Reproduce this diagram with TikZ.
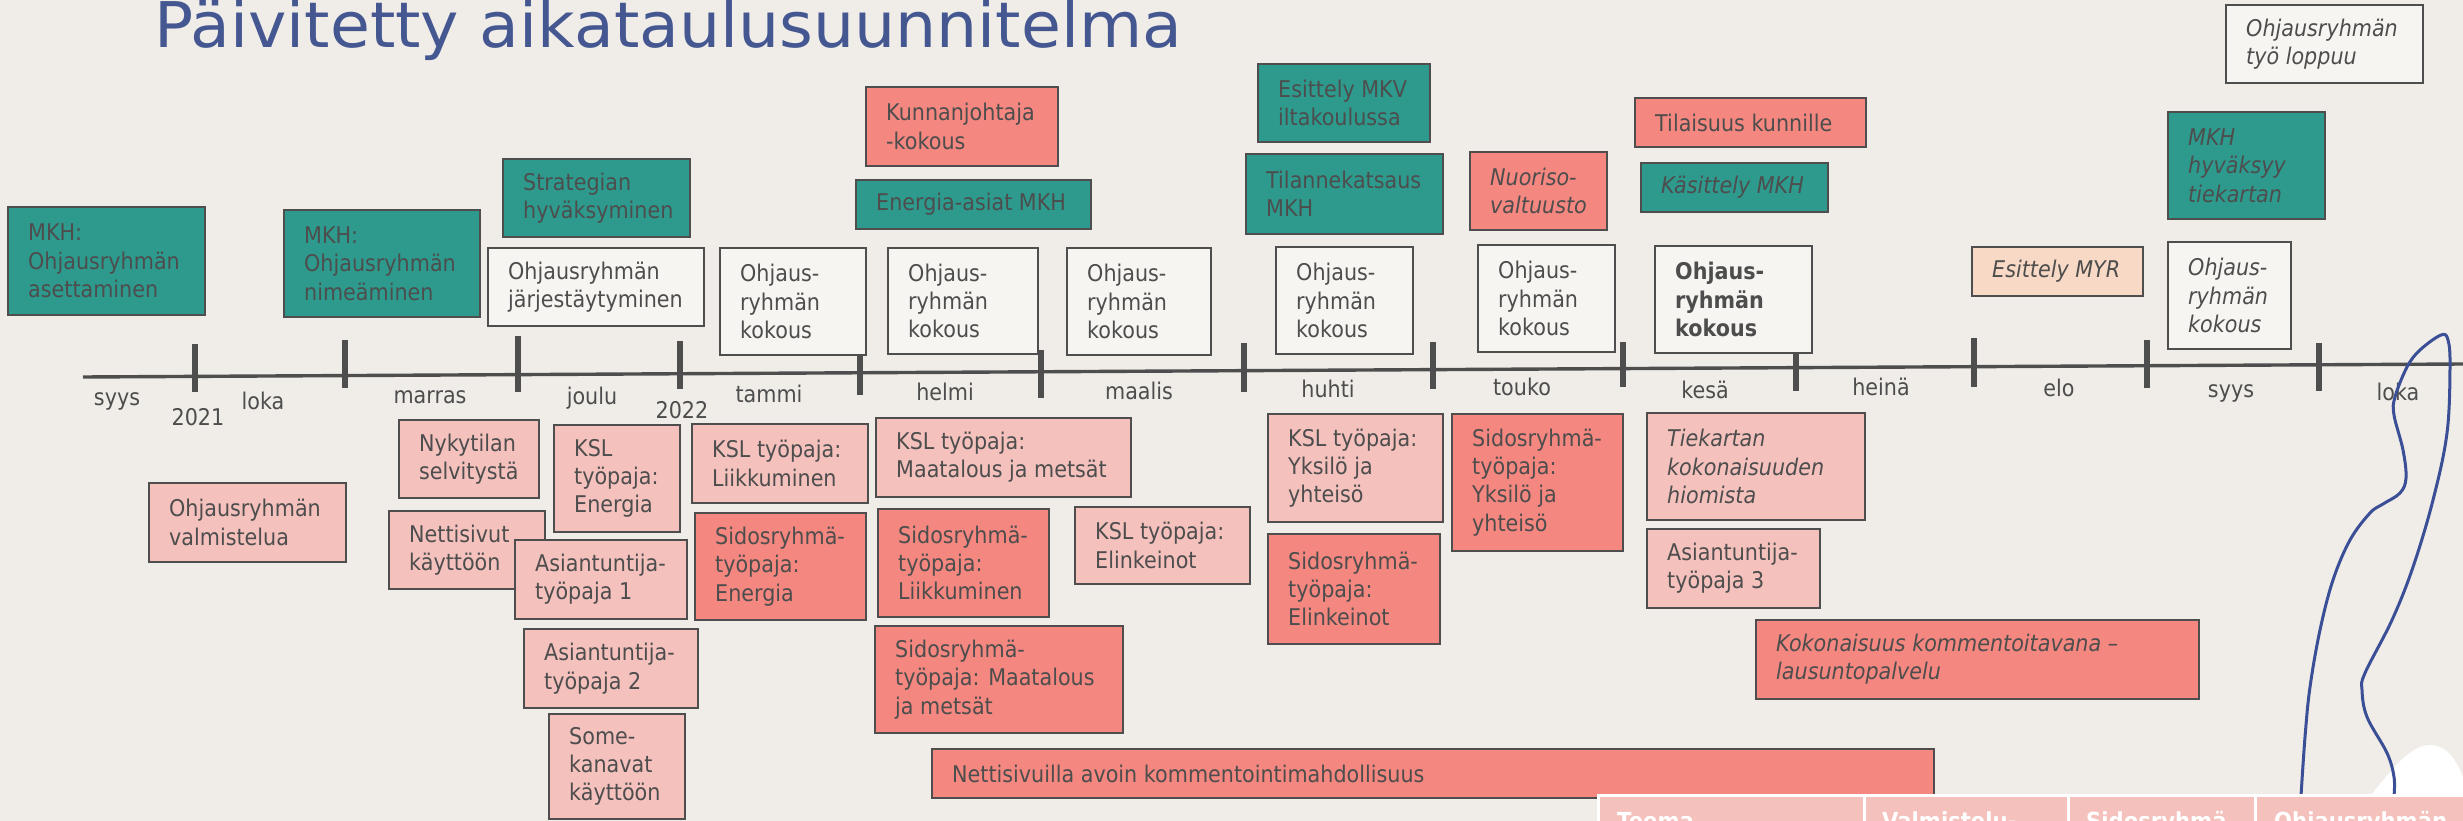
\documentclass[tikz,border=0pt]{standalone}
\usepackage{fontspec}
\setmainfont{DejaVu Sans}[FakeStretch=0.9]
\newfontfamily\titlefont{DejaVu Sans}[FakeStretch=1.03]
\definecolor{bg}{RGB}{240,237,232}
\definecolor{teal1}{RGB}{45,154,141}
\definecolor{salmon}{RGB}{244,135,127}
\definecolor{pink1}{RGB}{244,193,189}
\definecolor{wbox}{RGB}{246,245,241}
\definecolor{peach}{RGB}{248,217,197}
\definecolor{ink}{RGB}{77,77,77}
\definecolor{edge}{RGB}{78,78,78}
\definecolor{titleblue}{RGB}{68,87,145}
\definecolor{curveblue}{RGB}{58,79,150}
\tikzset{
  bx/.style={draw=edge, line width=2.5pt, inner sep=0pt, outer sep=0pt},
  tx/.style={text=ink, align=left, inner sep=0pt, anchor=west, font=\fontsize{23}{28.3}\selectfont},
  itx/.style={font=\fontsize{23}{28.3}\selectfont\itshape},
  bfx/.style={font=\fontsize{23}{28.3}\selectfont\bfseries},
  month/.style={text=ink, font=\fontsize{23}{28}\selectfont, anchor=base, inner sep=0pt},
  tickmark/.style={draw=edge, line width=6.5pt},
  cell/.style={fill=pink1, draw=white, line width=3pt, anchor=north west, inner sep=0pt, minimum height=45pt},
  celltext/.style={text=white, anchor=base west, inner sep=0pt, font=\fontsize{23.5}{28}\selectfont\bfseries},
}
\newcommand\mybox[8]{%
  \pgfmathsetmacro\bxw{#4-#2}\pgfmathsetmacro\bxh{#5-#3}%
  \node[bx, fill=#6, minimum width=\bxw pt, minimum height=\bxh pt] (#1) at ({(#2+#4)/2},{(#3+#5)/2}) {};
  \node[tx, #7] (#1t) at ([xshift=20pt]#1.west) {#8};}
\begin{document}
\begin{tikzpicture}[x=1pt, y=-1pt]
\useasboundingbox (0,0) rectangle (2463,821);
\begin{scope}
\clip (0,0) rectangle (2463,821);
\fill[bg] (0,0) rectangle (2463,821);
% title
\node[anchor=base west, inner sep=0pt, text=titleblue, font=\titlefont\fontsize{63}{65}\selectfont] (title) at (154,48) {Päivitetty aikataulusuunnitelma};
% timeline
\coordinate (tl0) at (83,377);
\coordinate (tl1) at (2463,364);
\draw[edge, line width=3.4pt] (tl0) -- (tl1);
\foreach \x/\a/\b in {195/344/392, 345/340/388, 518/336/392, 680/341/389, 860/347/395, 1041/350/398, 1244/343/392, 1433/342/389, 1623/342/387, 1796/343/391, 1974/338/387, 2147/340/388, 2319/343/391}
  \draw[tickmark] (\x,\a) -- (\x,\b);
% month labels
\node[month] (m1) at (117,405) {syys};
\node[month] (y1) at (198,425) {2021};
\node[month] (m2) at (263,409) {loka};
\node[month] (m3) at (430,403) {marras};
\node[month] (m4) at (592,404) {joulu};
\node[month] (y2) at (682,418) {2022};
\node[month] (m5) at (769,402) {tammi};
\node[month] (m6) at (945,400) {helmi};
\node[month] (m7) at (1139,399) {maalis};
\node[month] (m8) at (1328,397) {huhti};
\node[month] (m9) at (1522,395) {touko};
\node[month] (m10) at (1705,398) {kesä};
\node[month] (m11) at (1881,395) {heinä};
\node[month] (m12) at (2059,396) {elo};
\node[month] (m13) at (2231,397) {syys};
\node[month] (m14) at (2398,400) {loka};
% upper boxes
\mybox{b1}{8}{207}{205}{315}{teal1}{}{MKH:\\Ohjausryhmän\\asettaminen}
\mybox{b2}{284}{210}{480}{317}{teal1}{}{MKH:\\Ohjausryhmän\\nimeäminen}
\mybox{b3}{503}{159}{690}{237}{teal1}{}{Strategian\\hyväksyminen}
\mybox{b4}{488}{248}{704}{326}{wbox}{}{Ohjausryhmän\\järjestäytyminen}
\mybox{b5}{720}{248}{866}{355}{wbox}{}{Ohjaus-\\ryhmän\\kokous}
\mybox{b6}{866}{87}{1058}{166}{salmon}{}{Kunnanjohtaja\\-kokous}
\mybox{b7}{856}{180}{1091}{229}{teal1}{}{Energia-asiat MKH}
\mybox{b8}{888}{248}{1038}{354}{wbox}{}{Ohjaus-\\ryhmän\\kokous}
\mybox{b9}{1067}{248}{1211}{355}{wbox}{}{Ohjaus-\\ryhmän\\kokous}
\mybox{b10}{1258}{64}{1430}{142}{teal1}{}{Esittely MKV\\iltakoulussa}
\mybox{b11}{1246}{154}{1443}{234}{teal1}{}{Tilannekatsaus\\MKH}
\mybox{b12}{1276}{247}{1413}{354}{wbox}{}{Ohjaus-\\ryhmän\\kokous}
\mybox{b13}{1470}{152}{1607}{230}{salmon}{itx}{Nuoriso-\\valtuusto}
\mybox{b14}{1478}{245}{1615}{352}{wbox}{}{Ohjaus-\\ryhmän\\kokous}
\mybox{b15}{1635}{98}{1866}{147}{salmon}{}{Tilaisuus kunnille}
\mybox{b16}{1641}{163}{1828}{212}{teal1}{itx}{Käsittely MKH}
\mybox{b17}{1655}{246}{1812}{353}{wbox}{bfx}{Ohjaus-\\ryhmän\\kokous}
\mybox{b18}{1972}{247}{2143}{296}{peach}{itx}{Esittely MYR}
\mybox{b19}{2226}{5}{2423}{83}{wbox}{itx}{Ohjausryhmän\\työ loppuu}
\mybox{b20}{2168}{112}{2325}{219}{teal1}{itx}{MKH\\hyväksyy\\tiekartan}
\mybox{b21}{2168}{242}{2291}{349}{wbox}{itx}{Ohjaus-\\ryhmän\\kokous}
% lower boxes
\mybox{c1}{149}{483}{346}{562}{pink1}{}{Ohjausryhmän\\valmistelua}
\mybox{c2}{399}{420}{539}{498}{pink1}{}{Nykytilan\\selvitystä}
\mybox{c3}{389}{511}{545}{589}{pink1}{}{Nettisivut\\käyttöön}
\mybox{c4}{554}{425}{680}{532}{pink1}{}{KSL\\työpaja:\\Energia}
\mybox{c5}{515}{540}{687}{619}{pink1}{}{Asiantuntija-\\työpaja 1}
\mybox{c6}{692}{424}{868}{503}{pink1}{}{KSL työpaja:\\Liikkuminen}
\mybox{c7}{695}{513}{866}{620}{salmon}{}{Sidosryhmä-\\työpaja:\\Energia}
\mybox{c8}{876}{418}{1131}{497}{pink1}{}{KSL työpaja:\\Maatalous ja metsät}
\mybox{c9}{878}{509}{1049}{617}{salmon}{}{Sidosryhmä-\\työpaja:\\Liikkuminen}
\mybox{c10}{1075}{507}{1250}{584}{pink1}{}{KSL työpaja:\\Elinkeinot}
\mybox{c11}{524}{629}{698}{708}{pink1}{}{Asiantuntija-\\työpaja 2}
\mybox{c12}{549}{714}{685}{819}{pink1}{}{Some-\\kanavat\\käyttöön}
\mybox{c13}{875}{626}{1123}{733}{salmon}{}{Sidosryhmä-\\työpaja: Maatalous\\ja metsät}
\mybox{c14}{932}{749}{1934}{798}{salmon}{}{Nettisivuilla avoin kommentointimahdollisuus}
\mybox{c15}{1268}{414}{1443}{522}{pink1}{}{KSL työpaja:\\Yksilö ja\\yhteisö}
\mybox{c16}{1268}{534}{1440}{644}{salmon}{}{Sidosryhmä-\\työpaja:\\Elinkeinot}
\mybox{c17}{1452}{414}{1623}{551}{salmon}{}{Sidosryhmä-\\työpaja:\\Yksilö ja\\yhteisö}
\mybox{c18}{1647}{413}{1865}{520}{pink1}{itx}{Tiekartan\\kokonaisuuden\\hiomista}
\mybox{c19}{1647}{529}{1820}{608}{pink1}{}{Asiantuntija-\\työpaja 3}
\mybox{c20}{1756}{620}{2199}{699}{salmon}{itx}{Kokonaisuus kommentoitavana –\\lausuntopalvelu}
% white dome
\fill[white] (2372,794) .. controls (2395,765) and (2412,745) .. (2430,745) .. controls (2448,745) and (2458,762) .. (2466,785) -- (2466,794) -- cycle;
% blue hand-drawn loop
\draw[curveblue, line width=3pt, line join=round] plot[smooth, tension=0.6] coordinates {(2301,796) (2305,737) (2310,687) (2320,630) (2333,580) (2350,540) (2370,513) (2383,504) (2400,493) (2406,478) (2403,450) (2394,415) (2395,397) (2407,367) (2420,350) (2441,335) (2448,340) (2450,367) (2447,433) (2433,500) (2413,567) (2392,620) (2365,673) (2362,690) (2367,717) (2387,753) (2394,777) (2394,796)};
% table header
\node[cell, minimum width=266pt] (h1) at (1597,794) {};
\node[cell, minimum width=204pt] (h2) at (1863,794) {};
\node[cell, minimum width=187pt] (h3) at (2067,794) {};
\node[cell, minimum width=230pt] (h4) at (2254,794) {};
\node[celltext] (h1t) at (1617,829) {Teema};
\node[celltext] (h2t) at (1882,829) {Valmistelu-};
\node[celltext] (h3t) at (2086,829) {Sidosryhmä};
\node[celltext] (h4t) at (2274,829) {Ohjausryhmän};
\end{scope}
\end{tikzpicture}
\end{document}
